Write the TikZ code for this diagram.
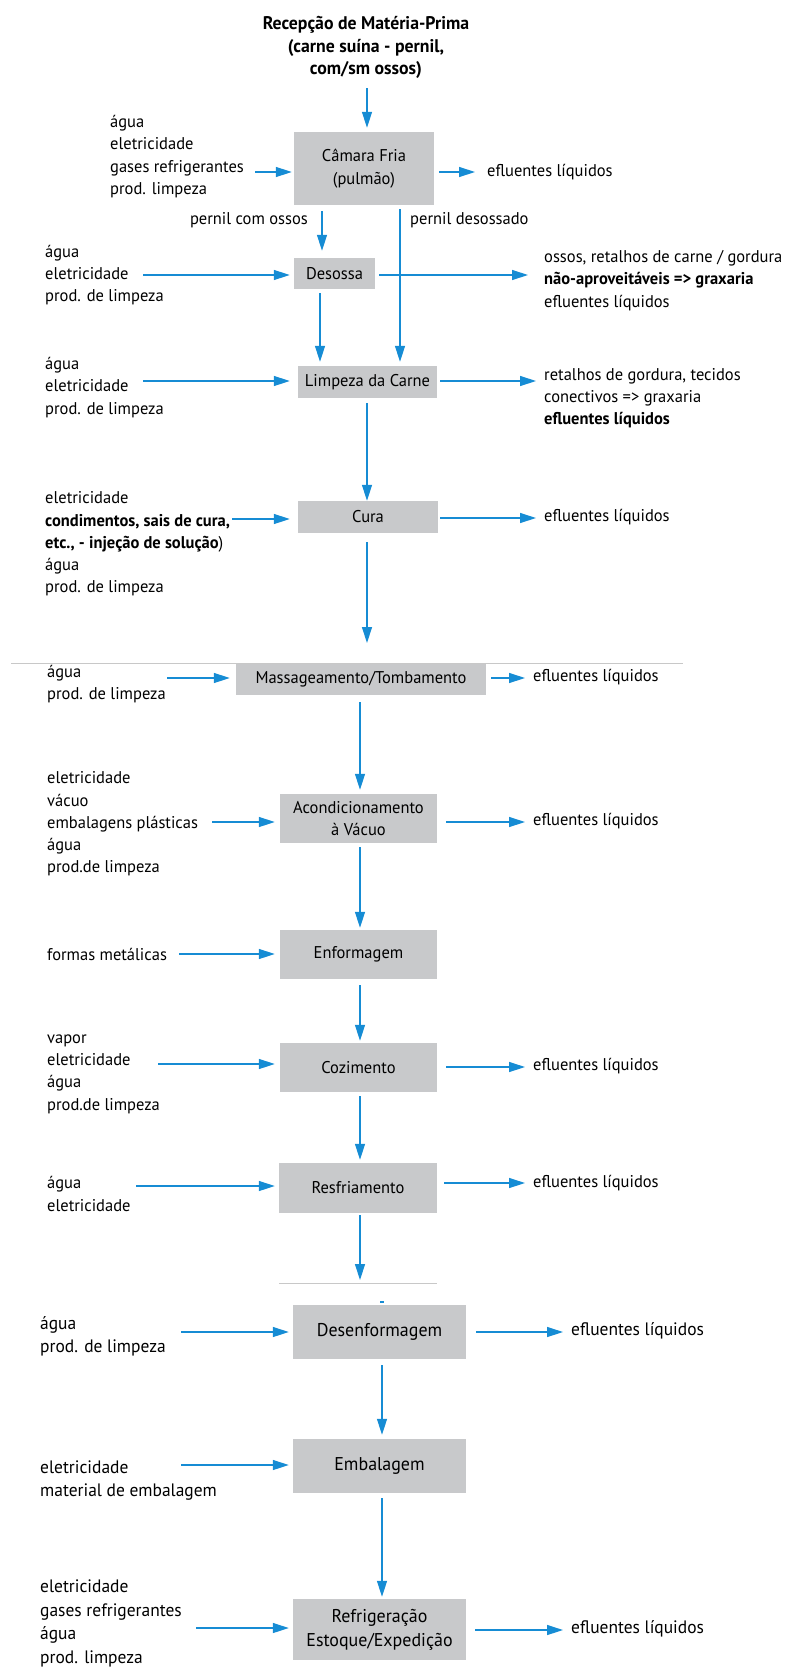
\documentclass[tikz,border=0pt]{standalone}
\usepackage{fontspec}
\setmainfont{PT Sans}[FakeStretch=0.97]
\usetikzlibrary{arrows.meta,calc}
\definecolor{flowblue}{RGB}{22,140,212}
\definecolor{boxgray}{RGB}{200,201,203}
\definecolor{rulegray}{RGB}{200,200,200}
\tikzset{
  every node/.style={font=\fontsize{17}{22.3}\selectfont, inner sep=0pt},
  procbox/.style={fill=boxgray, draw=none, align=center},
  lbl/.style={anchor=west, align=left},
  big/.style={font=\fontsize{18}{23}\selectfont},
  bigbox/.style={font=\fontsize{18.5}{24}\selectfont},
  flow/.style={draw=flowblue, line width=1.3pt, -{Triangle[length=16pt,width=10pt]}},
  sepline/.style={draw=rulegray, line width=1pt}
}
\newcommand{\bx}[7][]{% [style], name, x1, y1, x2, y2, text
  \node[procbox, #1, minimum width=#5-#3, minimum height=#6-#4] (#2) at ({(#3+#5)/2},{(#4+#6)/2}) {#7};}
\begin{document}
\begin{tikzpicture}[x=1pt,y=-1pt]
\useasboundingbox (0,0) rectangle (788,1670);

% ---- raw material intake
\node[align=center, font=\fontsize{18.3}{22.5}\selectfont\bfseries] (rec) at (366,47.5)
  {Recepção de Matéria-Prima\\(carne suína - pernil,\\com/sm ossos)};
\coordinate (rec0) at (367,88);

% ---- process boxes
\bx{cam}{294}{132}{434}{205}{Câmara Fria\\(pulmão)}
\bx{des}{294}{258}{375}{289}{Desossa}
\bx{lim}{298}{366}{437}{398}{Limpeza da Carne}
\bx{cur}{298}{501}{438}{533}{Cura}
\bx{mas}{236}{664}{486}{695}{Massageamento/Tombamento}
\bx{aco}{280}{794}{437}{843}{Acondicionamento\\à Vácuo}
\bx{enf}{280}{930}{437}{979}{Enformagem}
\bx{coz}{280}{1043}{437}{1092}{Cozimento}
\bx{res}{279}{1163}{437}{1213}{Resfriamento}
\bx[bigbox]{den}{293}{1305}{466}{1359}{Desenformagem}
\bx[bigbox]{emb}{293}{1439}{466}{1493}{Embalagem}
\bx[bigbox]{ref}{293}{1599}{466}{1660}{Refrigeração\\Estoque/Expedição}

% ---- separators
\coordinate (sepA1) at (11,663);  \coordinate (sepA2) at (683,663);
\coordinate (sepB1) at (279,1283); \coordinate (sepB2) at (437,1283);
\draw[sepline] (sepA1) -- (sepA2);
\draw[sepline] (sepB1) -- (sepB2);
\coordinate (tick1) at (380,1302); \coordinate (tick2) at (384,1302);
\draw[flowblue, line width=1.5pt] (tick1) -- (tick2);

% ---- inputs (left)
\node[lbl] (inCam) at (110,156.5) {água\\eletricidade\\gases refrigerantes\\prod. limpeza};
\node[lbl] (inDes) at (45,275) {água\\eletricidade\\prod. de limpeza};
\node[lbl] (inLim) at (45,387.5) {água\\eletricidade\\prod. de limpeza};
\node[lbl] (inCur) at (45,544) {eletricidade\\\textbf{condimentos, sais de cura,}\\\textbf{etc., - injeção de solução})\\água\\prod. de limpeza};
\node[lbl] (inMas) at (47,684) {água\\prod. de limpeza};
\node[lbl] (inAco) at (47,824) {eletricidade\\vácuo\\embalagens plásticas\\água\\prod.de limpeza};
\node[lbl] (inEnf) at (47,954) {formas metálicas};
\node[lbl] (inCoz) at (47,1074) {vapor\\eletricidade\\água\\prod.de limpeza};
\node[lbl] (inRes) at (47,1194) {água\\eletricidade};
\node[lbl, big] (inDen) at (40,1336) {água\\prod. de limpeza};
\node[lbl, big] (inEmb) at (40,1480.5) {eletricidade\\material de embalagem};
\node[lbl, font=\fontsize{18}{23.7}\selectfont] (inRef) at (40,1623.5) {eletricidade\\gases refrigerantes\\água\\prod. limpeza};

% ---- outputs (right)
\node[lbl] (outCam) at (487,172) {efluentes líquidos};
\node[lbl] (outDes) at (544,280.5) {ossos, retalhos de carne / gordura\\\textbf{não-aproveitáveis => graxaria}\\efluentes líquidos};
\node[lbl] (outLim) at (544,398) {retalhos de gordura, tecidos\\conectivos => graxaria\\\textbf{efluentes líquidos}};
\node[lbl] (outCur) at (544,517) {efluentes líquidos};
\node[lbl] (outMas) at (533,677) {efluentes líquidos};
\node[lbl] (outAco) at (533,821) {efluentes líquidos};
\node[lbl] (outCoz) at (533,1066) {efluentes líquidos};
\node[lbl] (outRes) at (533,1183) {efluentes líquidos};
\node[lbl, big] (outDen) at (571,1331) {efluentes líquidos};
\node[lbl, big] (outRef) at (571,1629) {efluentes líquidos};

% ---- branch labels below the cold room
\node[anchor=east] (pco) at (308,220) {pernil com ossos};
\node[anchor=west] (pde) at (410,220) {pernil desossado};

% ---- main flow (vertical)
\draw[flow] (rec0) -- ([yshift=4pt]cam.north -| rec0);
\coordinate (c1) at (322,211);
\draw[flow] (c1) -- ([yshift=7pt]des.north -| c1);
\coordinate (c2) at (400,209);
\draw[flow] (c2) -- ([yshift=4pt]lim.north -| c2);
\coordinate (c3) at (320,293);
\draw[flow] (c3) -- ([yshift=4pt]lim.north -| c3);
\coordinate (c4) at (367,403);
\draw[flow] (c4) -- (cur.north -| c4);
\coordinate (c5) at (367,542);
\coordinate (c5e) at (367,643);
\draw[flow] (c5) -- (c5e);
\coordinate (c6) at (360,702);
\draw[flow] (c6) -- ([yshift=4pt]aco.north -| c6);
\coordinate (c7) at (360,847);
\draw[flow] (c7) -- ([yshift=2pt]enf.north -| c7);
\coordinate (c8) at (360,985);
\draw[flow] (c8) -- ([yshift=2pt]coz.north -| c8);
\coordinate (c9) at (360,1096);
\draw[flow] (c9) -- ([yshift=3pt]res.north -| c9);
\coordinate (c10) at (360,1215);
\coordinate (c10e) at (360,1280);
\draw[flow] (c10) -- (c10e);
\coordinate (c11) at (382,1365);
\draw[flow] (c11) -- ([yshift=4pt]emb.north -| c11);
\coordinate (c12) at (382,1498);
\draw[flow] (c12) -- ([yshift=2pt]ref.north -| c12);

% ---- inputs (arrows)
\coordinate (i1) at (255,172);  \draw[flow] (i1) -- ([xshift=-2pt]cam.west |- i1);
\coordinate (i2) at (143,275);  \draw[flow] (i2) -- ([xshift=-4pt]des.west |- i2);
\coordinate (i3) at (143,381);  \draw[flow] (i3) -- ([xshift=-8pt]lim.west |- i3);
\coordinate (i4) at (232,519);  \draw[flow] (i4) -- ([xshift=-8pt]cur.west |- i4);
\coordinate (i5) at (167,678);  \draw[flow] (i5) -- ([xshift=-6pt]mas.west |- i5);
\coordinate (i6) at (212,822);  \draw[flow] (i6) -- ([xshift=-5pt]aco.west |- i6);
\coordinate (i7) at (179,954);  \draw[flow] (i7) -- ([xshift=-5pt]enf.west |- i7);
\coordinate (i8) at (158,1064); \draw[flow] (i8) -- ([xshift=-5pt]coz.west |- i8);
\coordinate (i9) at (136,1186); \draw[flow] (i9) -- ([xshift=-4pt]res.west |- i9);
\coordinate (i10) at (181,1332); \draw[flow] (i10) -- ([xshift=-4pt]den.west |- i10);
\coordinate (i11) at (181,1465); \draw[flow] (i11) -- ([xshift=-4pt]emb.west |- i11);
\coordinate (i12) at (196,1628); \draw[flow] (i12) -- ([xshift=-4pt]ref.west |- i12);

% ---- outputs (arrows)
\coordinate (o1) at (475,172);  \draw[flow] ([xshift=5pt]cam.east |- o1) -- (o1);
\coordinate (o2) at (528,275);  \draw[flow] ([xshift=4pt]des.east |- o2) -- (o2);
\coordinate (o3) at (536,381);  \draw[flow] ([xshift=3pt]lim.east |- o3) -- (o3);
\coordinate (o4) at (536,518);  \draw[flow] ([xshift=2pt]cur.east |- o4) -- (o4);
\coordinate (o5) at (525,678);  \draw[flow] ([xshift=5pt]mas.east |- o5) -- (o5);
\coordinate (o6) at (525,822);  \draw[flow] ([xshift=9pt]aco.east |- o6) -- (o6);
\coordinate (o7) at (525,1067); \draw[flow] ([xshift=9pt]coz.east |- o7) -- (o7);
\coordinate (o8) at (525,1183); \draw[flow] ([xshift=7pt]res.east |- o8) -- (o8);
\coordinate (o9) at (563,1332); \draw[flow] ([xshift=10pt]den.east |- o9) -- (o9);
\coordinate (o10) at (563,1630); \draw[flow] ([xshift=9pt]ref.east |- o10) -- (o10);
\end{tikzpicture}
\end{document}
